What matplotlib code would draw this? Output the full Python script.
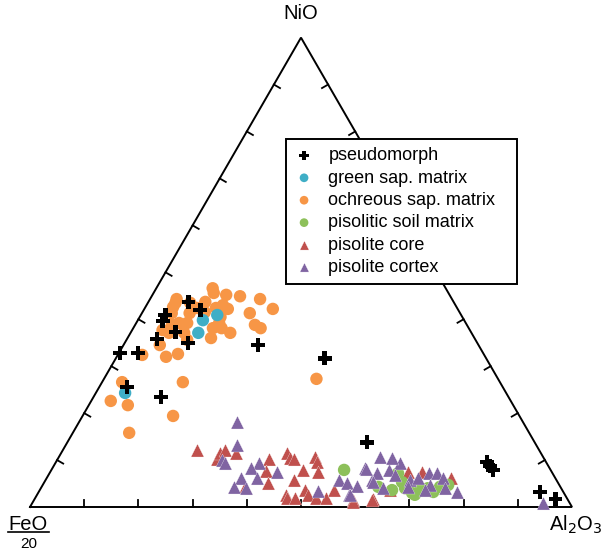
import numpy as np
import matplotlib
matplotlib.use("Agg")
import matplotlib.pyplot as plt

plt.rcParams['font.family'] = ['Liberation Sans', 'DejaVu Sans']

# ternary compositions in % : NiO and Al2O3 (FeO/20 is the remainder)
pseudo_nio = [43.7, 40.9, 39.6, 42.0, 37.3, 35.8, 34.9, 32.8, 32.8, 34.5, 25.6, 23.4,
              31.7, 13.8, 9.6, 8.7, 7.9, 3.2, 1.7]
pseudo_al = [7.4, 4.5, 4.7, 10.4, 8.2, 5.5, 11.7, 0.2, 3.5, 24.8, 5.1, 12.5,
             38.5, 55.3, 79.5, 80.5, 81.5, 92.5, 96.1]

green_nio = [39.8, 37.1, 40.9, 24.3]
green_al = [12.0, 12.5, 14.1, 5.4]

ochre_nio = [46.6, 45.6, 45.2, 44.9, 44.3, 42.2, 41.3, 38.8, 38.1, 44.3, 43.5, 42.6,
             41.3, 41.3, 42.4, 41.5, 42.4, 43.0, 42.2, 40.5, 39.2, 38.1, 38.1, 37.1,
             36.0, 39.2, 39.2, 38.8, 37.7, 37.1, 37.1, 35.6, 34.5, 32.0, 32.6, 32.4,
             26.6, 26.6, 22.6, 21.7, 19.4, 15.8, 27.3, 43.5, 43.7]
ochre_al = [10.4, 11.1, 13.6, 16.3, 20.3, 23.7, 19.9, 22.1, 23.5, 4.9, 5.1, 5.1,
            5.5, 8.8, 9.6, 11.5, 13.1, 14.1, 15.4, 14.9, 15.3, 14.7, 16.3, 18.4,
            15.4, 9.4, 7.9, 6.8, 5.6, 7.1, 9.9, 11.2, 6.7, 9.1, 11.0, 4.5,
            14.9, 3.7, 3.6, 7.2, 16.7, 10.4, 39.2, 7.8, 10.5]

soil_nio = [7.9, 4.3, 3.6, 5.3, 2.6, 3.6, 3.2, 4.3, 4.7, 7.2, 3.0, 4.0, 4.0]
soil_al = [54.0, 62.1, 65.0, 66.0, 69.7, 70.2, 72.8, 73.5, 74.8, 64.3, 69.0, 67.2, 71.4]

core_nio = [12.1, 10.2, 11.5, 12.1, 11.5, 10.2, 7.7, 5.1, 11.5, 10.4, 10.2, 10.7,
            9.6, 7.9, 7.5, 5.8, 2.6, 1.9, 1.9, 3.6, 2.6, 1.9, 1.9, 3.6, 1.5, 1.7,
            4.3, 1.5, 3.6, 7.5, 7.5, 6.2, 1.1]
core_al = [24.7, 29.4, 29.3, 29.9, 32.2, 39.0, 39.7, 41.3, 41.6, 42.8, 43.6, 47.3,
           48.2, 46.5, 49.3, 45.8, 45.9, 46.4, 47.9, 48.9, 50.0, 51.8, 53.6, 54.3, 58.8, 62.4,
           37.6, 62.4, 64.6, 65.9, 68.6, 74.6, 59.1]

cortex_nio = [18.1, 13.2, 10.0, 9.4, 9.4, 8.3, 7.5, 6.2, 6.2, 4.3, 4.0, 3.4, 5.8,
              5.1, 4.5, 2.6, 8.3, 5.8, 10.7, 8.1, 7.2, 7.9, 9.4, 6.8, 5.8, 6.2, 7.2,
              7.2, 6.2, 4.7, 3.6, 4.0, 3.2, 2.6, 5.3, 4.0, 4.3, 0.9, 10.4]
cortex_al = [29.1, 31.6, 30.4, 31.3, 37.6, 36.6, 41.8, 35.8, 38.8, 35.5, 37.9, 51.4, 54.1,
             55.9, 58.1, 57.6, 57.7, 60.2, 59.2, 58.0, 60.4, 62.3, 63.6, 63.9, 67.2, 68.5, 70.0,
             71.5, 73.1, 71.5, 71.1, 74.6, 77.2, 57.7, 60.6, 63.1, 67.5, 94.2, 61.6]

H = np.sqrt(3) / 2


def tern(nio, al):
    nio = np.asarray(nio) / 100.0
    al = np.asarray(al) / 100.0
    return al + nio / 2, nio * H


fig = plt.figure(figsize=(6.03, 5.5), dpi=100)
ax = fig.add_axes([0, 0, 1, 1])
ax.set_xlim(-30 / 542, 573 / 542)
ax.set_ylim(-43 / 542, 507 / 542)
ax.axis('off')

# triangle frame
ax.plot([0, 1, 0.5, 0], [0, 0, H, 0], color='black', lw=1.4, solid_joinstyle='miter', zorder=1)

# ticks, perpendicular to each edge and pointing inward
tl = 0.013
for k in range(1, 10):
    f = k / 10
    ax.plot([f, f], [0, tl], color='black', lw=1.3, zorder=1)
    x0, y0 = f * 0.5, f * H
    ax.plot([x0, x0 + tl * H], [y0, y0 - tl * 0.5], color='black', lw=1.3, zorder=1)
    x1, y1 = 1 - f * 0.5, f * H
    ax.plot([x1, x1 - tl * H], [y1, y1 - tl * 0.5], color='black', lw=1.3, zorder=1)

ms = 80
h_ochre = ax.scatter(*tern(ochre_nio, ochre_al), s=ms, marker='o', color='#F79646',
                     edgecolors='none', zorder=3)
h_green = ax.scatter(*tern(green_nio, green_al), s=ms, marker='o', color='#3FAEC6',
                     edgecolors='none', zorder=4)
h_pseudo = ax.scatter(*tern(pseudo_nio, pseudo_al), s=100, marker='P', color='black',
                      edgecolors='none', zorder=5)
h_core = ax.scatter(*tern(core_nio, core_al), s=88, marker='^', color='#C0504D',
                    edgecolors='white', linewidths=0.2, zorder=3)
h_soil = ax.scatter(*tern(soil_nio, soil_al), s=ms, marker='o', color='#8DC05A',
                    edgecolors='none', zorder=4)
h_cortex = ax.scatter(*tern(cortex_nio, cortex_al), s=88, marker='^', color='#8064A2',
                      edgecolors='white', linewidths=0.2, zorder=5)

leg = ax.legend([h_pseudo, h_green, h_ochre, h_soil, h_core, h_cortex],
                ['pseudomorph', 'green sap. matrix', 'ochreous sap. matrix',
                 'pisolitic soil matrix', 'pisolite core', 'pisolite cortex'],
                loc='upper left', mode='expand',
                bbox_to_anchor=(286 / 603, 1 - 284 / 550, 231 / 603, 145 / 550),
                frameon=True, fancybox=False, edgecolor='black', framealpha=1,
                fontsize=13, markerscale=0.7, handletextpad=0.8, labelspacing=0.3,
                borderpad=0.45, handlelength=1.1, borderaxespad=0)
leg.get_frame().set_linewidth(1.4)
leg.set_zorder(10)

# vertex labels
ax.text(0.5, H + 0.035, 'NiO', ha='center', va='baseline', fontsize=14.5)
ax.text(-0.003, -0.043, 'FeO', ha='center', va='baseline', fontsize=14.5)
ax.plot([-0.04, 0.035], [-0.046, -0.046], color='black', lw=1.2)
ax.text(-0.003, -0.076, '20', ha='center', va='baseline', fontsize=11)
ax.text(0.958, -0.043, r'Al$_2$O$_3$', ha='left', va='baseline', fontsize=14.5)

fig.savefig('out.png', dpi=100)
